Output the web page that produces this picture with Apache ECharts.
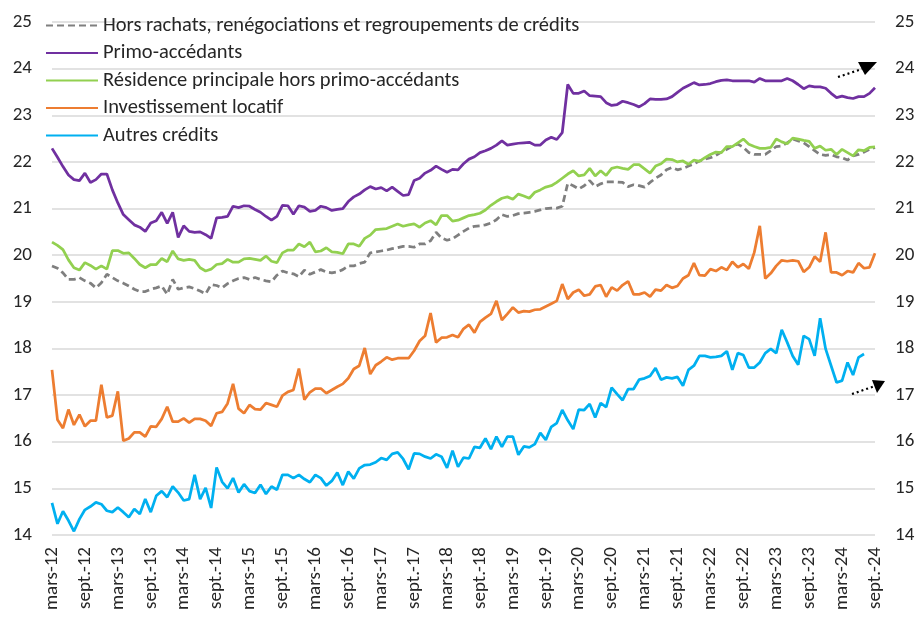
<!DOCTYPE html>
<html>
<head>
<meta charset="utf-8">
<script src="https://cdn.jsdelivr.net/npm/echarts@6/dist/echarts.min.js"></script>
<style>
html,body{margin:0;padding:0;background:#fff;}
#chart{width:922px;height:620px;}
</style>
</head>
<body>
<div id="chart"></div>
<script>
// Month categories: mars-12 .. sept.-24
const categories = [
 'mars-12','avr.-12','mai-12','juin-12','juil.-12','août-12','sept.-12','oct.-12','nov.-12','déc.-12',
 'janv.-13','févr.-13','mars-13','avr.-13','mai-13','juin-13','juil.-13','août-13','sept.-13','oct.-13','nov.-13','déc.-13',
 'janv.-14','févr.-14','mars-14','avr.-14','mai-14','juin-14','juil.-14','août-14','sept.-14','oct.-14','nov.-14','déc.-14',
 'janv.-15','févr.-15','mars-15','avr.-15','mai-15','juin-15','juil.-15','août-15','sept.-15','oct.-15','nov.-15','déc.-15',
 'janv.-16','févr.-16','mars-16','avr.-16','mai-16','juin-16','juil.-16','août-16','sept.-16','oct.-16','nov.-16','déc.-16',
 'janv.-17','févr.-17','mars-17','avr.-17','mai-17','juin-17','juil.-17','août-17','sept.-17','oct.-17','nov.-17','déc.-17',
 'janv.-18','févr.-18','mars-18','avr.-18','mai-18','juin-18','juil.-18','août-18','sept.-18','oct.-18','nov.-18','déc.-18',
 'janv.-19','févr.-19','mars-19','avr.-19','mai-19','juin-19','juil.-19','août-19','sept.-19','oct.-19','nov.-19','déc.-19',
 'janv.-20','févr.-20','mars-20','avr.-20','mai-20','juin-20','juil.-20','août-20','sept.-20','oct.-20','nov.-20','déc.-20',
 'janv.-21','févr.-21','mars-21','avr.-21','mai-21','juin-21','juil.-21','août-21','sept.-21','oct.-21','nov.-21','déc.-21',
 'janv.-22','févr.-22','mars-22','avr.-22','mai-22','juin-22','juil.-22','août-22','sept.-22','oct.-22','nov.-22','déc.-22',
 'janv.-23','févr.-23','mars-23','avr.-23','mai-23','juin-23','juil.-23','août-23','sept.-23','oct.-23','nov.-23','déc.-23',
 'janv.-24','févr.-24','mars-24','avr.-24','mai-24','juin-24','juil.-24','août-24','sept.-24'
];

const seriesNames = [
 'Hors rachats, renégociations et regroupements de crédits',
 'Primo-accédants',
 'Résidence principale hors primo-accédants',
 'Investissement locatif',
 'Autres crédits'
];

const horsRachats = [
 19.77,19.72,19.62,19.48,19.48,19.52,19.45,19.40,19.30,19.41,19.59,19.52,19.45,19.40,19.34,19.27,19.22,19.22,19.27,19.30,
 19.34,19.16,19.48,19.27,19.30,19.32,19.28,19.23,19.17,19.37,19.35,19.30,19.39,19.45,19.50,19.52,19.48,19.52,
 19.48,19.45,19.43,19.57,19.66,19.62,19.60,19.54,19.68,19.59,19.64,19.69,19.64,19.62,19.64,19.69,19.77,19.77,19.82,19.85,
 20.05,20.07,20.09,20.11,20.14,20.16,20.19,20.19,20.17,20.24,20.24,20.31,20.49,20.37,20.32,20.35,20.43,20.51,
 20.58,20.62,20.63,20.65,20.69,20.76,20.87,20.83,20.85,20.89,20.90,20.92,20.94,20.97,21.00,21.01,21.01,21.05,
 21.54,21.49,21.42,21.49,21.60,21.47,21.53,21.57,21.57,21.57,21.56,21.47,21.51,21.49,21.46,21.56,21.65,21.72,21.83,21.88,
 21.83,21.86,21.91,21.96,22.02,22.06,22.09,22.14,22.21,22.27,22.34,22.38,22.31,22.20,22.16,22.16,22.16,22.24,22.33,22.34,
 22.41,22.49,22.45,22.41,22.33,22.24,22.16,22.14,22.16,22.11,22.09,22.04,22.13,22.16,22.21,22.27,22.31
];

const primoAccedants = [
 22.29,22.10,21.90,21.72,21.62,21.60,21.76,21.56,21.62,21.74,21.74,21.40,21.12,20.87,20.76,20.65,20.60,20.51,20.69,20.74,
 20.92,20.68,20.92,20.38,20.63,20.51,20.49,20.50,20.44,20.36,20.80,20.81,20.83,21.05,21.02,21.06,21.05,20.98,
 20.92,20.83,20.75,20.83,21.07,21.06,20.88,21.06,21.03,20.94,20.96,21.05,21.02,20.96,20.98,21.00,21.15,21.25,21.31,21.40,
 21.47,21.42,21.45,21.38,21.46,21.37,21.28,21.30,21.60,21.65,21.76,21.82,21.91,21.84,21.78,21.84,21.83,21.96,
 22.06,22.11,22.20,22.24,22.29,22.36,22.45,22.36,22.38,22.40,22.41,22.42,22.36,22.36,22.47,22.53,22.48,22.63,
 23.66,23.47,23.47,23.52,23.42,23.41,23.40,23.27,23.21,23.23,23.30,23.27,23.23,23.18,23.25,23.35,23.34,23.34,23.35,23.40,
 23.49,23.58,23.64,23.70,23.65,23.66,23.68,23.72,23.75,23.76,23.74,23.74,23.74,23.74,23.71,23.79,23.74,23.74,23.74,23.74,
 23.79,23.74,23.66,23.57,23.63,23.61,23.61,23.58,23.47,23.38,23.41,23.38,23.36,23.40,23.40,23.47,23.59
];

const residencePrincipale = [
 20.28,20.21,20.12,19.90,19.73,19.68,19.84,19.78,19.70,19.77,19.70,20.10,20.10,20.04,20.05,19.93,19.80,19.73,19.80,19.80,
 19.93,19.86,20.09,19.92,19.89,19.91,19.89,19.73,19.66,19.70,19.80,19.82,19.91,19.85,19.85,19.92,19.93,19.91,
 19.89,19.98,19.87,19.84,20.05,20.11,20.11,20.24,20.18,20.28,20.07,20.09,20.16,20.07,20.06,20.03,20.24,20.24,20.19,20.36,
 20.43,20.55,20.56,20.57,20.62,20.67,20.62,20.65,20.67,20.60,20.69,20.74,20.65,20.85,20.85,20.73,20.75,20.80,
 20.85,20.87,20.90,20.97,21.07,21.15,21.22,21.25,21.20,21.31,21.27,21.22,21.35,21.40,21.46,21.49,21.56,21.65,
 21.74,21.81,21.70,21.72,21.86,21.70,21.81,21.71,21.86,21.89,21.86,21.84,21.94,21.94,21.85,21.76,21.91,21.96,22.06,22.05,
 22.00,22.02,21.95,22.04,22.01,22.09,22.16,22.21,22.20,22.33,22.33,22.41,22.49,22.38,22.33,22.29,22.29,22.31,22.49,22.43,
 22.39,22.51,22.49,22.46,22.44,22.29,22.34,22.25,22.27,22.16,22.27,22.20,22.13,22.26,22.24,22.31,22.32
];

const investissementLocatif = [
 17.54,16.47,16.29,16.69,16.36,16.58,16.33,16.45,16.45,17.22,16.52,16.56,17.08,16.02,16.07,16.20,16.20,16.11,16.33,16.32,
 16.49,16.75,16.43,16.43,16.50,16.41,16.49,16.49,16.45,16.34,16.61,16.64,16.82,17.24,16.71,16.61,16.79,16.70,
 16.69,16.83,16.79,16.75,16.99,17.07,17.11,17.57,16.90,17.06,17.14,17.14,17.04,17.11,17.18,17.24,17.36,17.56,17.63,18.01,
 17.45,17.64,17.72,17.81,17.76,17.79,17.79,17.79,17.95,18.16,18.27,18.76,18.13,18.23,18.24,18.29,18.24,18.42,
 18.51,18.34,18.57,18.66,18.74,19.02,18.61,18.74,18.88,18.77,18.80,18.79,18.83,18.84,18.90,18.96,19.02,19.38,
 19.06,19.20,19.26,19.13,19.16,19.33,19.36,19.11,19.31,19.24,19.36,19.44,19.16,19.16,19.20,19.11,19.26,19.24,19.36,19.30,
 19.34,19.50,19.57,19.83,19.57,19.56,19.70,19.66,19.74,19.68,19.86,19.74,19.81,19.71,20.06,20.63,19.50,19.61,19.77,19.89,
 19.87,19.89,19.87,19.64,19.74,19.97,19.86,20.49,19.63,19.63,19.57,19.66,19.63,19.83,19.72,19.74,20.04
];

const autresCredits = [
 14.69,14.24,14.51,14.31,14.08,14.34,14.54,14.61,14.70,14.66,14.52,14.49,14.59,14.49,14.38,14.56,14.45,14.77,14.49,14.84,
 14.94,14.81,15.04,14.91,14.74,14.77,15.29,14.77,15.01,14.58,15.45,15.14,15.00,15.22,14.91,15.09,14.94,14.90,
 15.08,14.88,15.04,14.97,15.29,15.29,15.22,15.29,15.20,15.13,15.29,15.22,15.06,15.16,15.34,15.07,15.36,15.21,15.43,15.50,
 15.51,15.56,15.65,15.61,15.74,15.77,15.63,15.41,15.75,15.74,15.68,15.64,15.73,15.68,15.44,15.81,
 15.46,15.66,15.64,15.89,15.87,16.07,15.84,16.11,15.89,16.11,16.11,15.72,15.90,15.88,15.95,16.19,16.04,16.32,
 16.40,16.68,16.46,16.27,16.69,16.68,16.81,16.52,16.83,16.74,17.16,17.02,16.89,17.13,17.13,17.33,17.36,17.41,17.58,17.33,
 17.38,17.36,17.39,17.20,17.54,17.63,17.84,17.84,17.81,17.82,17.84,17.94,17.54,17.90,17.86,17.59,17.59,17.70,17.90,17.99,
 17.90,18.40,18.13,17.84,17.65,18.27,18.20,17.84,18.65,17.99,17.63,17.27,17.31,17.70,17.43,17.81,17.88
];

const yMin = 14, yMax = 25, yStep = 1;

const FONT = 'Carlito, Lato, "Liberation Sans", sans-serif';
const chart = echarts.init(document.getElementById('chart'), null, {renderer: 'canvas'});

function lineSeries(name, data, color, type) {
  return {
    name: name, type: 'line', data: data, symbol: 'none', smooth: false,
    lineStyle: {color: color, width: 2.75, type: type || 'solid'},
    itemStyle: {color: color},
    emphasis: {disabled: true},
    z: 3
  };
}

const yAxisCommon = {
  type: 'value', min: yMin, max: yMax, interval: yStep,
  axisLine: {show: false}, axisTick: {show: false},
  axisLabel: {color: '#262626', fontSize: 19, fontFamily: FONT, margin: 20}
};

chart.setOption({
  animation: false,
  backgroundColor: '#ffffff',
  grid: {left: 52, right: 47, top: 22, bottom: 85, containLabel: false},
  legend: {
    orient: 'vertical', left: 40, top: 10,
    itemWidth: 52, itemHeight: 14, itemGap: 6.5,
    itemStyle: {opacity: 0},
    textStyle: {color: '#262626', fontSize: 20.5, fontFamily: FONT},
    data: seriesNames
  },
  xAxis: {
    type: 'category', data: categories, boundaryGap: false,
    axisLine: {show: false}, axisTick: {show: false},
    axisLabel: {rotate: 90, interval: 5, color: '#262626', fontSize: 19, fontFamily: FONT, margin: 12},
    splitLine: {show: false}
  },
  yAxis: [
    Object.assign({}, yAxisCommon, {position: 'left', splitLine: {show: true, lineStyle: {color: '#d9d9d9', width: 1.5}}}),
    Object.assign({}, yAxisCommon, {position: 'right', splitLine: {show: false}})
  ],
  series: [
    lineSeries(seriesNames[0], horsRachats, '#7f7f7f', [7, 4]),
    lineSeries(seriesNames[1], primoAccedants, '#7030a0'),
    lineSeries(seriesNames[2], residencePrincipale, '#92d050'),
    lineSeries(seriesNames[3], investissementLocatif, '#ed7d31'),
    lineSeries(seriesNames[4], autresCredits, '#00b0f0')
  ],
  graphic: [
    {type: 'polyline', shape: {points: [[838, 77], [862, 69]]}, style: {stroke: '#000', lineWidth: 2.2, lineDash: [2, 3], fill: null}, z: 10},
    {type: 'polygon', shape: {points: [[858, 62], [877, 62], [865, 75]]}, style: {fill: '#000'}, z: 10},
    {type: 'polyline', shape: {points: [[852, 394], [875, 386]]}, style: {stroke: '#000', lineWidth: 2.2, lineDash: [2, 3], fill: null}, z: 10},
    {type: 'polygon', shape: {points: [[872, 380], [885, 381], [877, 393]]}, style: {fill: '#000'}, z: 10}
  ]
});
</script>
</body>
</html>
